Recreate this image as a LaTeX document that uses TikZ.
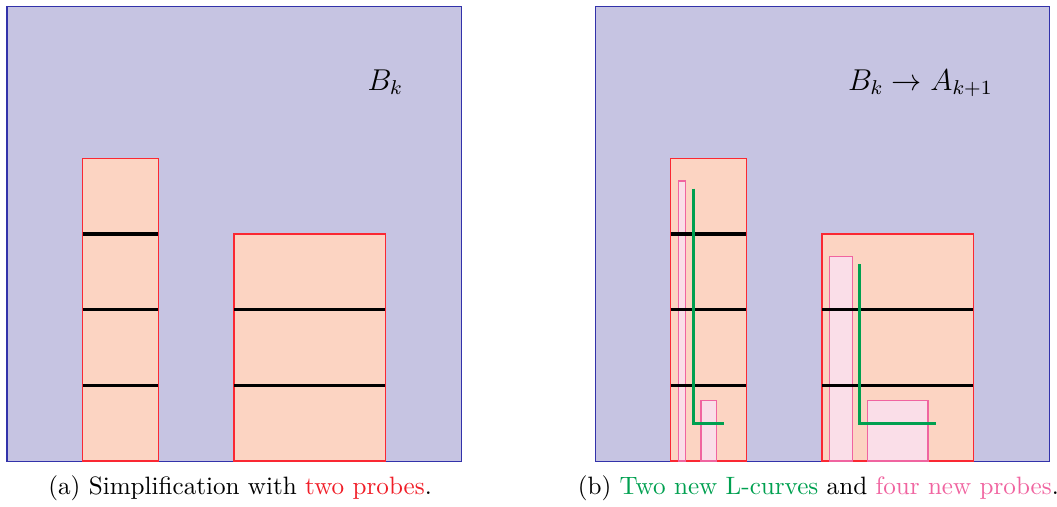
\documentclass[tikz,border=0pt]{standalone}
\usepackage{xcolor}
\definecolor{sqfill}{RGB}{198,196,226}
\definecolor{sqdraw}{RGB}{50,50,170}
\definecolor{blkfill}{RGB}{252,212,194}
\definecolor{blkdraw}{RGB}{250,40,50}
\definecolor{prbfill}{RGB}{250,222,232}
\definecolor{prbdraw}{RGB}{240,100,160}
\definecolor{lgreen}{RGB}{0,160,80}
\definecolor{capred}{RGB}{240,30,40}
\tikzset{
  square/.style={fill=sqfill,draw=sqdraw,line width=0.4pt},
  block/.style={fill=blkfill,draw=blkdraw,line width=0.45pt},
  probe/.style={fill=prbfill,draw=prbdraw,line width=0.45pt},
  level/.style={black,line width=1.2pt},
  lcurve/.style={lgreen,line width=1.2pt},
  lab/.style={font=\large,anchor=base,inner sep=0pt},
  captext/.style={anchor=base,inner sep=0pt}
}
\begin{document}
\begin{tikzpicture}[x=30.12pt,y=-30.12pt]
\useasboundingbox (-0.0925,-0.0925) rectangle (13.876,6.595);
% ---------- left panel
\begin{scope}
\draw[square] (0,0) rectangle (6,6);
\draw[block] (1,2) rectangle (2,6);
\draw[block] (3,3) rectangle (5,6);
\draw[level] (1,3) -- (2,3);
\draw[level] (1,4) -- (2,4);
\draw[level] (1,5) -- (2,5);
\draw[level] (3,4) -- (5,4);
\draw[level] (3,5) -- (5,5);
\node[lab] (bk) at (5,1.1) {$B_k$};
\node[captext] (capa) at (3.08,6.436) {(a) Simplification with \textcolor{capred}{two probes}.};
\end{scope}
% ---------- right panel
\begin{scope}[xshift=7.771*30.12pt]
\draw[square] (0,0) rectangle (6,6);
\draw[block] (1,2) rectangle (2,6);
\draw[block] (3,3) rectangle (5,6);
\draw[probe] (1.1,2.3) rectangle (1.2,6);
\draw[probe] (1.4,5.2) rectangle (1.6,6);
\draw[probe] (3.1,3.3) rectangle (3.4,6);
\draw[probe] (3.6,5.2) rectangle (4.4,6);
\draw[level] (1,3) -- (2,3);
\draw[level] (1,4) -- (2,4);
\draw[level] (1,5) -- (2,5);
\draw[level] (3,4) -- (5,4);
\draw[level] (3,5) -- (5,5);
\draw[lcurve] (1.3,2.4) -- (1.3,5.5) -- (1.7,5.5);
\draw[lcurve] (3.5,3.4) -- (3.5,5.5) -- (4.5,5.5);
\node[lab] (bka) at (4.30,1.1) {$B_k \to A_{k+1}$};
\node[captext] (capb) at (2.95,6.436) {(b) \textcolor{lgreen}{Two new L-curves} and \textcolor{prbdraw}{four new probes}.};
\end{scope}
\end{tikzpicture}
\end{document}
